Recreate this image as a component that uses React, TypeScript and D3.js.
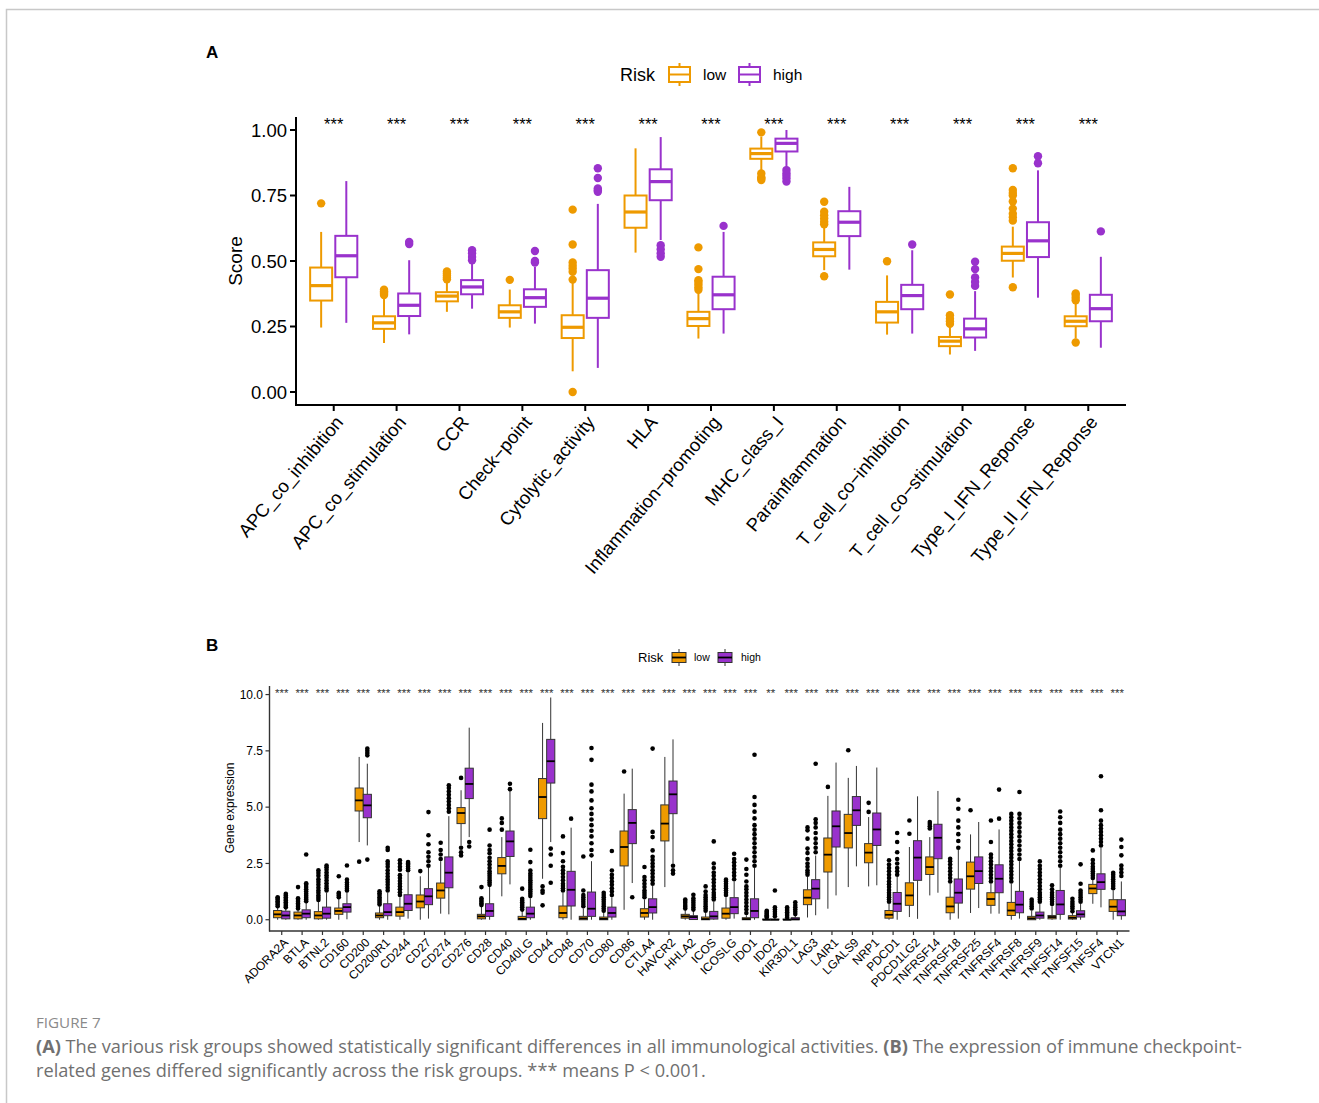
import React from 'react';
import * as d3 from 'd3';

// ---------------- Panel A data ----------------
const aCategories = [
  'APC_co_inhibition', 'APC_co_stimulation', 'CCR', 'Check−point', 'Cytolytic_activity', 'HLA',
  'Inflammation−promoting', 'MHC_class_I', 'Parainflammation', 'T_cell_co−inhibition',
  'T_cell_co−stimulation', 'Type_I_IFN_Reponse', 'Type_II_IFN_Reponse',
];
// [lower whisker, Q1, median, Q3, upper whisker]
const aLowStats = [
  [0.246, 0.349, 0.406, 0.475, 0.611],
  [0.187, 0.241, 0.264, 0.289, 0.365],
  [0.306, 0.346, 0.366, 0.381, 0.425],
  [0.246, 0.283, 0.306, 0.331, 0.391],
  [0.079, 0.206, 0.247, 0.293, 0.42],
  [0.532, 0.627, 0.687, 0.75, 0.93],
  [0.204, 0.252, 0.28, 0.306, 0.382],
  [0.847, 0.89, 0.91, 0.929, 0.975],
  [0.465, 0.518, 0.544, 0.571, 0.637],
  [0.219, 0.265, 0.306, 0.344, 0.445],
  [0.143, 0.175, 0.194, 0.21, 0.251],
  [0.437, 0.501, 0.529, 0.555, 0.631],
  [0.204, 0.251, 0.27, 0.289, 0.344],
];
const aHighStats = [
  [0.264, 0.438, 0.52, 0.596, 0.805],
  [0.22, 0.29, 0.331, 0.376, 0.503],
  [0.318, 0.373, 0.401, 0.427, 0.497],
  [0.261, 0.325, 0.36, 0.392, 0.478],
  [0.092, 0.283, 0.358, 0.465, 0.718],
  [0.58, 0.732, 0.803, 0.85, 0.973],
  [0.223, 0.316, 0.371, 0.44, 0.611],
  [0.853, 0.918, 0.949, 0.967, 1.0],
  [0.467, 0.595, 0.648, 0.69, 0.783],
  [0.223, 0.316, 0.368, 0.409, 0.541],
  [0.157, 0.208, 0.241, 0.28, 0.385],
  [0.36, 0.515, 0.577, 0.648, 0.846],
  [0.169, 0.27, 0.318, 0.371, 0.516],
];
const aLowOutliers = [
  [0.72],
  [0.37, 0.375, 0.38, 0.385, 0.39],
  [0.43, 0.437, 0.445, 0.452, 0.46],
  [0.428],
  [0.0, 0.429, 0.459, 0.471, 0.482, 0.494, 0.563, 0.696],
  [],
  [0.39, 0.4, 0.41, 0.42, 0.427, 0.469, 0.552],
  [0.809, 0.815, 0.82, 0.834, 0.991],
  [0.442, 0.64, 0.65, 0.662, 0.675, 0.688, 0.726],
  [0.499],
  [0.26, 0.27, 0.28, 0.293, 0.372],
  [0.4, 0.654, 0.667, 0.68, 0.7, 0.727, 0.75, 0.76, 0.771, 0.854],
  [0.189, 0.35, 0.36, 0.37, 0.376],
];
const aHighOutliers = [
  [],
  [0.565, 0.573],
  [0.503, 0.515, 0.53, 0.541],
  [0.494, 0.5, 0.538],
  [0.764, 0.77, 0.777, 0.817, 0.854],
  [0.516, 0.53, 0.545, 0.56],
  [0.634],
  [0.803, 0.815, 0.825, 0.835, 0.847],
  [],
  [0.563],
  [0.405, 0.42, 0.437, 0.469, 0.497],
  [0.873, 0.9],
  [0.613],
];
const aSignif = aCategories.map(() => '***');
const aYTicks = [0, 0.25, 0.5, 0.75, 1.0];

// ---------------- Panel B data ----------------
const bGenes = [
  'ADORA2A', 'BTLA', 'BTNL2', 'CD160', 'CD200', 'CD200R1', 'CD244', 'CD27', 'CD274', 'CD276',
  'CD28', 'CD40', 'CD40LG', 'CD44', 'CD48', 'CD70', 'CD80', 'CD86', 'CTLA4', 'HAVCR2', 'HHLA2',
  'ICOS', 'ICOSLG', 'IDO1', 'IDO2', 'KIR3DL1', 'LAG3', 'LAIR1', 'LGALS9', 'NRP1', 'PDCD1',
  'PDCD1LG2', 'TNFRSF14', 'TNFRSF18', 'TNFRSF25', 'TNFRSF4', 'TNFRSF8', 'TNFRSF9', 'TNFSF14',
  'TNFSF15', 'TNFSF4', 'VTCN1',
];
const bSignif = bGenes.map((g) => (g === 'IDO2' ? '**' : '***'));
const bLowStats = [
  [0, 0.09, 0.24, 0.41, 0.55], [0, 0.04, 0.19, 0.34, 0.45], [0, 0.04, 0.19, 0.36, 0.8],
  [0, 0.24, 0.39, 0.52, 0.92], [3.45, 4.83, 5.3, 5.85, 7.23], [0, 0.09, 0.19, 0.3, 0.6],
  [0, 0.16, 0.34, 0.56, 1.0], [0, 0.53, 0.81, 1.1, 1.93], [0.27, 0.96, 1.3, 1.63, 2.6],
  [3.3, 4.27, 4.74, 4.98, 5.75], [0, 0.04, 0.15, 0.24, 0.6], [1.04, 2.04, 2.39, 2.76, 3.67],
  [0, 0, 0.04, 0.15, 0.4], [1.82, 4.49, 5.45, 6.27, 8.74], [0, 0.09, 0.3, 0.61, 1.2],
  [0, 0, 0.06, 0.15, 0.5], [0, 0, 0.04, 0.12, 0.35], [0.44, 2.39, 3.23, 3.94, 5.6],
  [0, 0.12, 0.3, 0.49, 0.9], [1.45, 3.5, 4.27, 5.1, 7.23], [0, 0.07, 0.15, 0.24, 0.45],
  [0, 0, 0.03, 0.12, 0.3], [0, 0.07, 0.27, 0.52, 1.0], [0, 0, 0.03, 0.09, 0.2],
  [0, 0, 0, 0.03, 0.06], [0, 0, 0, 0.03, 0.06], [0.1, 0.67, 0.98, 1.33, 1.9],
  [0.49, 2.12, 2.89, 3.63, 5.5], [1.45, 3.19, 3.85, 4.68, 6.3], [1.48, 2.53, 2.98, 3.38, 4.56],
  [0, 0.07, 0.22, 0.41, 0.7], [0.12, 0.64, 1.08, 1.64, 3.23], [1.08, 2.01, 2.34, 2.79, 3.67],
  [0, 0.31, 0.59, 1.0, 1.6], [0.3, 1.36, 1.93, 2.56, 3.79], [0.27, 0.64, 0.92, 1.2, 1.6],
  [0, 0.19, 0.41, 0.77, 1.6], [0, 0, 0.06, 0.15, 0.4], [0, 0.04, 0.12, 0.19, 0.6],
  [0, 0.03, 0.09, 0.18, 0.3], [0.71, 1.16, 1.39, 1.57, 1.75], [0, 0.37, 0.58, 0.89, 1.3],
];
const bHighStats = [
  [0, 0.04, 0.19, 0.38, 0.5], [0, 0.09, 0.27, 0.44, 0.75], [0, 0.07, 0.27, 0.56, 1.2],
  [0.02, 0.34, 0.56, 0.71, 1.22], [3.3, 4.53, 5.08, 5.57, 6.93], [0, 0.18, 0.34, 0.71, 1.2],
  [0.05, 0.41, 0.71, 1.11, 2.1], [0.05, 0.67, 1.04, 1.38, 2.3], [0.24, 1.42, 2.09, 2.79, 4.6],
  [3.67, 5.38, 6.03, 6.73, 8.53], [0, 0.15, 0.39, 0.71, 1.45], [1.57, 2.81, 3.48, 3.94, 5.75],
  [0, 0.09, 0.27, 0.56, 0.95], [3.45, 6.07, 7.04, 8.01, 9.87], [0, 0.61, 1.33, 2.15, 4.09],
  [0, 0.15, 0.49, 1.23, 2.6], [0, 0.12, 0.3, 0.56, 1.0], [1.63, 3.38, 4.3, 4.89, 6.71],
  [0, 0.3, 0.56, 0.93, 1.5], [2.49, 4.71, 5.57, 6.16, 8.01], [0, 0.01, 0.12, 0.18, 0.4],
  [0, 0.03, 0.15, 0.37, 0.8], [0.05, 0.27, 0.56, 0.98, 1.7], [0, 0.09, 0.39, 0.93, 2.3],
  [0, 0, 0, 0.03, 0.06], [0, 0, 0.02, 0.09, 0.2], [0.2, 0.93, 1.38, 1.78, 2.85],
  [1.08, 3.23, 4.15, 4.83, 6.98], [2.37, 4.19, 4.86, 5.47, 6.83], [1.53, 3.3, 4.01, 4.74, 6.76],
  [0, 0.37, 0.71, 1.21, 1.9], [0.04, 1.75, 2.76, 3.51, 5.48], [1.2, 2.71, 3.64, 4.24, 5.72],
  [0.05, 0.74, 1.2, 1.81, 3.1], [0.52, 1.61, 2.16, 2.79, 4.34], [0.27, 1.2, 1.82, 2.44, 4.01],
  [0.05, 0.31, 0.67, 1.26, 2.6], [0, 0.07, 0.19, 0.34, 0.7], [0, 0.24, 0.68, 1.3, 2.3],
  [0, 0.12, 0.24, 0.4, 0.7], [0.55, 1.35, 1.67, 2.04, 3.2], [0, 0.18, 0.37, 0.89, 1.7],
];
const bLowOutliers = [
  [0.6, 0.68, 0.75, 0.82, 0.9, 0.96, 1.0],
  [0.5, 0.58, 0.65, 0.72, 0.8, 0.88, 0.95, 1.45],
  [0.88, 0.98, 1.08, 1.2, 1.3, 1.42, 1.55, 1.68, 1.8, 1.95, 2.08, 2.2],
  [1.0, 1.08, 1.15, 1.2, 1.93],
  [2.58],
  [0.68, 0.76, 0.84, 0.92, 1.0, 1.1, 1.18, 1.26],
  [1.1, 1.22, 1.35, 1.48, 1.6, 1.72, 1.85, 1.98, 2.22, 2.35, 2.5, 2.64],
  [2.16],
  [2.7, 2.9, 3.1, 3.42],
  [2.85, 3.0, 3.2, 6.3],
  [0.65, 0.72, 0.8, 0.88, 0.95, 1.45],
  [4.0, 4.3, 4.5],
  [0.45, 0.55, 0.62, 0.7, 0.78, 0.85, 0.93, 1.38],
  [0.64, 1.2, 1.3, 1.48],
  [1.3, 1.4, 1.5, 1.6, 1.75, 1.9, 2.05, 2.2, 2.35, 2.6, 2.96, 3.7],
  [0.6, 0.7, 0.8, 0.9, 1.0, 1.1, 1.3, 2.81],
  [0.4, 0.5, 0.6, 0.7, 0.8, 0.9, 1.0, 1.1, 1.2],
  [6.58],
  [1.0, 1.1, 1.2, 1.3, 1.45, 1.6, 1.75, 1.9, 2.34],
  [],
  [0.5, 0.58, 0.66, 0.75, 0.83, 0.9],
  [0.4, 0.5, 0.6, 0.7, 0.8, 0.9, 1.0, 1.1, 1.25, 1.48],
  [1.1, 1.2, 1.3, 1.4, 1.5, 1.6, 1.7, 1.78],
  [0.3, 0.45, 0.6, 0.75, 0.9, 1.05, 1.2, 1.35, 1.48, 1.7, 2.0, 2.25, 2.67],
  [0.1, 0.15, 0.2, 0.25, 0.3, 0.35, 0.4],
  [0.1, 0.18, 0.25, 0.33, 0.4, 0.48, 0.55],
  [2.0, 2.1, 2.2, 2.35, 2.5, 2.7, 2.96, 3.16, 3.6, 3.97, 4.1],
  [5.9],
  [7.53],
  [4.79, 5.19],
  [0.8, 0.9, 1.0, 1.1, 1.2, 1.32, 1.45, 1.58, 1.7, 1.85, 2.0, 2.15, 2.3, 2.45, 2.64],
  [3.82, 4.41],
  [4.05, 4.15, 4.25, 4.34],
  [1.7, 1.85, 2.0, 2.15, 2.3, 2.45, 2.6, 2.71],
  [4.86],
  [1.7, 1.85, 2.0, 2.15, 2.3, 2.45, 2.6, 2.75, 2.9, 3.45, 4.41],
  [1.7, 1.85, 2.0, 2.15, 2.3, 2.45, 2.6, 2.75, 2.9, 3.05, 3.2, 3.35, 3.5, 3.65, 3.8, 3.95, 4.1, 4.25, 4.4, 4.55, 4.7],
  [0.5, 0.6, 0.7, 0.8, 0.9],
  [0.7, 0.8, 0.9, 1.0, 1.1, 1.2, 1.35, 1.53],
  [0.38, 0.5, 0.6, 0.7, 0.8, 0.93],
  [1.85, 1.95, 2.05, 2.15, 2.25, 2.35, 2.5, 2.65, 3.08],
  [1.4, 1.5, 1.6, 1.7, 1.8, 1.9, 2.0, 2.09],
];
const bHighOutliers = [
  [0.55, 0.62, 0.7, 0.78, 0.85, 0.92, 1.0, 1.08, 1.15],
  [0.82, 0.9, 0.98, 1.06, 1.15, 1.25, 1.35, 1.45, 1.55, 1.62, 2.9],
  [1.3, 1.4, 1.5, 1.62, 1.74, 1.86, 1.98, 2.1, 2.22, 2.33, 2.41],
  [1.3, 1.38, 1.46, 1.55, 1.65, 1.78, 2.41],
  [2.67, 7.3, 7.4, 7.5, 7.6],
  [1.3, 1.42, 1.55, 1.68, 1.8, 1.92, 2.05, 2.2, 2.35, 2.48, 2.6, 3.1, 3.2],
  [2.2, 2.28, 2.36, 2.44, 2.5, 2.56],
  [2.4, 2.6, 2.8, 3.0, 3.35, 3.75, 4.78],
  [4.8, 4.95, 5.1, 5.25, 5.4, 5.55, 5.7, 5.85, 5.97],
  [3.25, 3.45],
  [1.55, 1.65, 1.75, 1.85, 1.95, 2.05, 2.15, 2.3, 2.45, 2.6, 2.75, 2.95, 3.1, 3.3, 4.0],
  [5.8, 6.04],
  [1.05, 1.15, 1.25, 1.35, 1.45, 1.55, 1.65, 1.75, 1.85, 1.95, 2.05, 2.19, 2.56, 3.11],
  [1.64, 2.4, 2.9, 3.16],
  [4.49],
  [2.86, 3.1, 3.4, 3.7, 3.95, 4.2, 4.45, 4.7, 4.95, 5.3, 5.7, 6.0, 7.1, 7.63],
  [1.1, 1.25, 1.4, 1.55, 1.7, 1.85, 2.0, 2.19, 3.05],
  [1.0],
  [1.6, 1.75, 1.9, 2.05, 2.2, 2.35, 2.5, 2.65, 2.8, 3.08, 3.67, 3.9, 7.6],
  [2.05, 2.2, 2.4],
  [0.45, 0.55, 0.65, 0.75, 0.85, 0.95, 1.11],
  [0.9, 1.0, 1.1, 1.2, 1.35, 1.5, 1.65, 1.8, 1.95, 2.1, 2.3, 2.5, 3.48],
  [1.8, 1.95, 2.1, 2.25, 2.4, 2.55, 2.7, 2.93],
  [2.4, 2.6, 2.8, 3.0, 3.2, 3.4, 3.6, 3.8, 4.0, 4.2, 4.5, 4.8, 5.1, 5.45, 7.33],
  [0.15, 0.25, 0.35, 0.45, 0.55, 1.3],
  [0.25, 0.35, 0.45, 0.55, 0.65, 0.78],
  [3.0, 3.2, 3.4, 3.6, 3.85, 4.1, 4.3, 4.46, 6.93],
  [],
  [],
  [],
  [2.0, 2.15, 2.3, 2.5, 2.7, 3.0, 3.45, 3.85],
  [],
  [],
  [3.2, 3.5, 3.8, 4.1, 4.4, 4.93, 5.33],
  [],
  [4.49, 5.78],
  [2.7, 2.9, 3.1, 3.3, 3.5, 3.7, 3.9, 4.1, 4.3, 4.5, 4.7, 5.67],
  [0.8, 0.9, 1.0, 1.1, 1.2, 1.35, 1.5, 1.65, 1.8, 1.95, 2.1, 2.25, 2.4, 2.59],
  [2.4, 2.6, 2.8, 3.0, 3.2, 3.4, 3.6, 3.8, 4.0, 4.3, 4.55, 4.81],
  [0.8, 0.9, 1.0, 1.1, 1.2, 1.3, 1.6, 2.46],
  [3.3, 3.45, 3.6, 3.75, 3.9, 4.05, 4.2, 4.4, 4.86, 6.37],
  [1.94, 2.1, 2.25, 2.41, 2.86, 3.23, 3.56],
];
const bYTicks = [0, 2.5, 5, 7.5, 10];

const groupNames = ['low', 'high'];
const ORANGE = '#EE9A00';
const PURPLE = '#9932CC';
const FONT = '"Liberation Sans", Arial, Helvetica, sans-serif';
const CAPFONT = '"Open Sans", "Noto Sans", sans-serif';

type BoxProps = {
  cx: number; w: number; s: number[]; outs: number[]; y: (v: number) => number;
  stroke: string; fill: string; medColor: string; whiskerColor: string;
  lw: number; medLw: number; r: number; outColor: string;
};

function BoxGlyph(p: BoxProps) {
  const [lo, q1, md, q3, hi] = p.s;
  const { y } = p;
  return (
    <g>
      <line x1={p.cx} x2={p.cx} y1={y(hi)} y2={y(q3)} stroke={p.whiskerColor} strokeWidth={p.lw} />
      <line x1={p.cx} x2={p.cx} y1={y(q1)} y2={y(lo)} stroke={p.whiskerColor} strokeWidth={p.lw} />
      <rect x={p.cx - p.w / 2} y={y(q3)} width={p.w} height={Math.max(0, y(q1) - y(q3))}
        fill={p.fill} stroke={p.stroke} strokeWidth={p.lw} />
      <line x1={p.cx - p.w / 2} x2={p.cx + p.w / 2} y1={y(md)} y2={y(md)} stroke={p.medColor} strokeWidth={p.medLw} />
      {p.outs.map((o, i) => (
        <circle key={i} cx={p.cx} cy={y(o)} r={p.r} fill={p.outColor} />
      ))}
    </g>
  );
}

function PanelA() {
  const x = d3.scalePoint<string>().domain(aCategories).range([296, 1126]).padding(0.6);
  const step = x.step();
  const y = d3.scaleLinear().domain([-0.05, 1.05]).range([405.1, 116.9]);
  const colors = [ORANGE, PURPLE];
  const stats = [aLowStats, aHighStats];
  const outs = [aLowOutliers, aHighOutliers];
  const bw = 0.35 * step;
  return (
    <g fontFamily={FONT}>
      <text x={206} y={58} fontSize={17} fontWeight={700} fill="#000">A</text>
      {/* legend */}
      <text x={620} y={81} fontSize={18} fill="#000">Risk</text>
      {groupNames.map((g, i) => {
        const kx = i === 0 ? 669 : 739;
        const tx = i === 0 ? 703 : 773;
        return (
          <g key={g}>
            <line x1={kx + 10.5} x2={kx + 10.5} y1={63} y2={86} stroke={colors[i]} strokeWidth={2} />
            <rect x={kx} y={67} width={21} height={15} fill="#fff" stroke={colors[i]} strokeWidth={2} />
            <line x1={kx} x2={kx + 21} y1={74.5} y2={74.5} stroke={colors[i]} strokeWidth={2} />
            <text x={tx} y={80} fontSize={15.5} fill="#000">{g}</text>
          </g>
        );
      })}
      {/* boxes */}
      {aCategories.map((c, ci) => (
        <g key={c}>
          {[0, 1].map((gi) => (
            <BoxGlyph key={gi} cx={(x(c) as number) + (gi === 0 ? -0.2 : 0.2) * step} w={bw}
              s={stats[gi][ci]} outs={outs[gi][ci]} y={y} stroke={colors[gi]} fill="#fff"
              medColor={colors[gi]} whiskerColor={colors[gi]} lw={2} medLw={3.2} r={4.2} outColor={colors[gi]} />
          ))}
          <text x={x(c)} y={129.5} fontSize={16.5} textAnchor="middle" fill="#000">{aSignif[ci]}</text>
        </g>
      ))}
      {/* axes */}
      <line x1={296} x2={296} y1={116.9} y2={406} stroke="#000" strokeWidth={2} />
      <line x1={295} x2={1126} y1={405.1} y2={405.1} stroke="#000" strokeWidth={2} />
      {aYTicks.map((t) => (
        <g key={t}>
          <line x1={290} x2={296} y1={y(t)} y2={y(t)} stroke="#000" strokeWidth={2} />
          <text x={287} y={y(t) + 6.6} fontSize={18.5} textAnchor="end" fill="#000">{t.toFixed(2)}</text>
        </g>
      ))}
      {aCategories.map((c) => (
        <g key={c}>
          <line x1={x(c)} x2={x(c)} y1={405} y2={411} stroke="#000" strokeWidth={2} />
          <text transform={`translate(${x(c)},${414}) rotate(-50)`} fontSize={18.5} textAnchor="end"
            dominantBaseline="hanging" fill="#000">{c}</text>
        </g>
      ))}
      <text transform="translate(242,261) rotate(-90)" fontSize={19} textAnchor="middle" fill="#000">Score</text>
    </g>
  );
}

function PanelB() {
  const x = d3.scalePoint<string>().domain(bGenes).range([269.5, 1129.5]).padding(0.6);
  const step = x.step();
  const y = d3.scaleLinear().domain([-0.5, 10.38]).range([931, 686]);
  const colors = [ORANGE, PURPLE];
  const stats = [bLowStats, bHighStats];
  const outs = [bLowOutliers, bHighOutliers];
  const bw = 0.4 * step;
  return (
    <g fontFamily={FONT}>
      <text x={206} y={651} fontSize={17} fontWeight={700} fill="#000">B</text>
      <text x={638} y={662} fontSize={13} fill="#000">Risk</text>
      {groupNames.map((g, i) => {
        const kx = i === 0 ? 672 : 718;
        const tx = i === 0 ? 694 : 741;
        return (
          <g key={g}>
            <line x1={kx + 7} x2={kx + 7} y1={649} y2={666} stroke="#333" strokeWidth={1} />
            <rect x={kx} y={652.5} width={14} height={10} fill={colors[i]} stroke="#333" strokeWidth={1} />
            <line x1={kx} x2={kx + 14} y1={657.5} y2={657.5} stroke="#000" strokeWidth={1.8} />
            <text x={tx} y={661} fontSize={10.5} fill="#000">{g}</text>
          </g>
        );
      })}
      {bGenes.map((gname, ci) => (
        <g key={gname}>
          {[0, 1].map((gi) => (
            <BoxGlyph key={gi} cx={(x(gname) as number) + (gi === 0 ? -0.2 : 0.2) * step} w={bw}
              s={stats[gi][ci]} outs={outs[gi][ci]} y={y} stroke="#333" fill={colors[gi]}
              medColor="#000" whiskerColor="#333" lw={1} medLw={1.8} r={2.3} outColor="#000" />
          ))}
          <text x={x(gname)} y={697.3} fontSize={11.5} textAnchor="middle" fill="#333">{bSignif[ci]}</text>
        </g>
      ))}
      <line x1={269.5} x2={269.5} y1={686} y2={931.5} stroke="#333" strokeWidth={1.4} />
      <line x1={269} x2={1129.5} y1={931} y2={931} stroke="#333" strokeWidth={1.4} />
      {bYTicks.map((t) => (
        <g key={t}>
          <line x1={265.5} x2={269.5} y1={y(t)} y2={y(t)} stroke="#333" strokeWidth={1.2} />
          <text x={263} y={y(t) + 4.3} fontSize={12} textAnchor="end" fill="#000">{t.toFixed(1)}</text>
        </g>
      ))}
      {bGenes.map((gname) => (
        <g key={gname}>
          <line x1={x(gname)} x2={x(gname)} y1={931} y2={935} stroke="#333" strokeWidth={1.2} />
          <text transform={`translate(${(x(gname) as number) + 1},${937}) rotate(-45)`} fontSize={12}
            textAnchor="end" dominantBaseline="hanging" fill="#000">{gname}</text>
        </g>
      ))}
      <text transform="translate(233.5,808) rotate(-90)" fontSize={12} textAnchor="middle" fill="#000">Gene expression</text>
    </g>
  );
}

function Caption() {
  return (
    <g fontFamily={CAPFONT}>
      <text x={36} y={1028} fontSize={15.2} fill="#8a8a8a">FIGURE 7</text>
      <text x={36} y={1052.5} fontSize={18.2} fill="#707070">
        <tspan fontWeight={700}>(A)</tspan> The various risk groups showed statistically significant differences in all immunological activities. <tspan fontWeight={700}>(B)</tspan> The expression of immune checkpoint-
      </text>
      <text x={36} y={1076.5} fontSize={18.2} fill="#707070">
        related genes differed significantly across the risk groups. *** means P &lt; 0.001.
      </text>
    </g>
  );
}

export default function App() {
  return (
    <svg width={1319} height={1103} viewBox="0 0 1319 1103"
      style={{ position: 'absolute', left: 0, top: 0, background: '#fff' }}>
      <rect x={0} y={0} width={1319} height={1103} fill="#fff" />
      <path d="M6.5,1103 V9.5 H1319" stroke="#c8c8c8" strokeWidth={1.5} fill="none" />
      <PanelA />
      <PanelB />
      <Caption />
    </svg>
  );
}
